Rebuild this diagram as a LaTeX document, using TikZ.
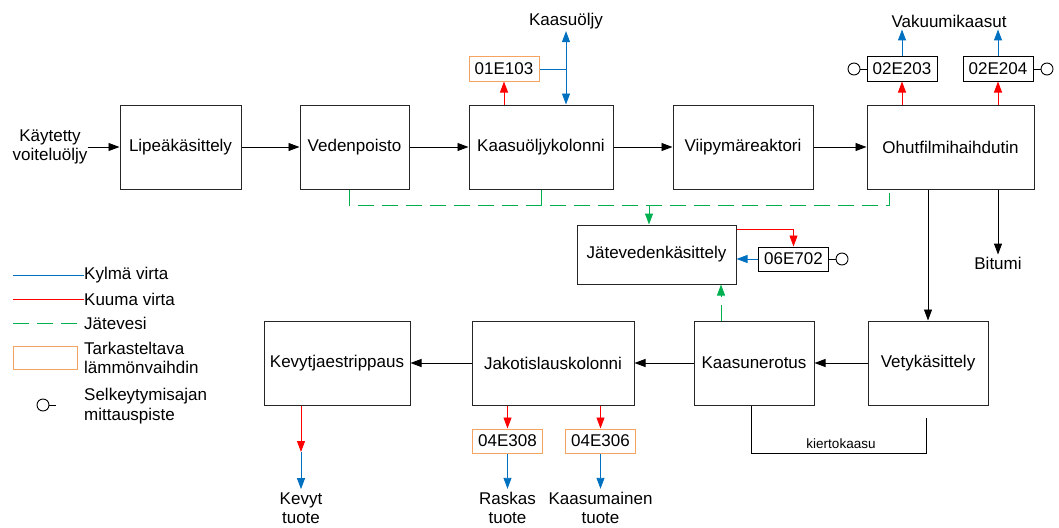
\documentclass[tikz,border=0pt]{standalone}
\usepackage{fontspec}
\setmainfont{Liberation Sans}
\usetikzlibrary{arrows.meta,positioning}
\definecolor{hotred}{HTML}{FF0000}
\definecolor{coldblue}{HTML}{0070C0}
\definecolor{wastegreen}{HTML}{00B050}
\definecolor{hxorange}{HTML}{F4A460}
\definecolor{ink}{HTML}{000000}
\tikzset{
  flow/.style={
    -{Triangle[length=11pt,width=8pt]},
    draw=ink,
    line width=0.9pt
  },
  hotflow/.style={flow, draw=hotred},
  coldflow/.style={flow, draw=coldblue},
  coldline/.style={draw=coldblue, line width=1pt},
  hotline/.style={draw=hotred, line width=1pt},
  wasteline/.style={
    draw=wastegreen,
    line width=1pt,
    dash pattern=on 16pt off 8pt
  },
  wasteflow/.style={flow, wasteline},
  plainline/.style={draw=ink, line width=0.9pt},
  unit/.style={
    rectangle,
    draw=black!85,
    line width=1pt,
    minimum height=84pt,
    inner sep=0pt,
    align=center
  },
  hx/.style={
    rectangle,
    draw=ink,
    line width=1pt,
    minimum width=70pt,
    minimum height=24pt,
    inner sep=0pt
  },
  hxcheck/.style={hx, draw=hxorange},
  probe/.style={
    circle,
    draw=ink,
    line width=0.9pt,
    minimum size=12pt,
    inner sep=0pt
  },
  labeltext/.style={align=center, inner sep=2pt},
  legendtext/.style={align=left, anchor=west, inner sep=0pt},
  smalltext/.style={font=\fontsize{13.5}{16}\selectfont}
}

\begin{document}
\begin{tikzpicture}[x=1pt,y=-1pt,font=\fontsize{17}{19.5}\selectfont]

  \useasboundingbox (0,0) rectangle (1059,527);

  % ============================================================
  % Upper line: pretreatment and vacuum evaporation
  % ============================================================
  \node[labeltext, inner sep=0pt] (src) at (50,147) {Käytetty\\voiteluöljy};

  \node[unit, minimum width=121pt] (lipea)  at (180.5,147) {Lipeäkäsittely};
  \node[unit, minimum width=109pt] (veden)  at (354.5,147) {Vedenpoisto};
  \node[unit, minimum width=144pt] (kolonni) at (541,147) {Kaasuöljykolonni};
  \node[unit, minimum width=140pt] (viipyma) at (743,147) {Viipymäreaktori};
  \node[unit, minimum width=167pt] (ohut)   at (950.5,147) {Ohutfilmihaihdutin};

  \draw[flow] (src.east) -- (lipea.west);
  \draw[flow] (lipea) -- (veden);
  \draw[flow] (veden) -- (kolonni);
  \draw[flow] (kolonni) -- (viipyma);
  \draw[flow] (viipyma) -- (ohut);

  % gas oil exchanger and product
  \node[hxcheck] (e103) at (504,69) {01E103};
  \node[labeltext] (kaasuolj) at (566,21) {Kaasuöljy};

  \draw[hotflow] (e103.south |- kolonni.north) -- (e103.south);
  \draw[coldflow, {Triangle[length=11pt,width=8pt]}-{Triangle[length=11pt,width=8pt]}]
       (kaasuolj.south) -- (kaasuolj.south |- kolonni.north);
  \draw[coldline] (e103.east) -- (e103.east -| kaasuolj.south);

  % vacuum gas condensers
  \node[hx] (e203) at (902,69) {02E203};
  \node[hx] (e204) at (998,69) {02E204};
  \node[probe] (p203) at (854,69) {};
  \node[probe] (p204) at (1047,69) {};
  \node[labeltext] (vakuumi) at (949,21) {Vakuumikaasut};

  \draw[plainline] (p203) -- (e203.west);
  \draw[plainline] (p204) -- (e204.east);
  \draw[hotflow] (e203.south |- ohut.north) -- (e203.south);
  \draw[hotflow] (e204.south |- ohut.north) -- (e204.south);
  \draw[coldflow] (e203.north) -- (e203.north |- vakuumi.south);
  \draw[coldflow] (e204.north) -- (e204.north |- vakuumi.south);

  % bottoms
  \node[labeltext] (bitumi) at (998,263) {Bitumi};
  \draw[flow] (bitumi.north |- ohut.south) -- (bitumi.north);

  % ============================================================
  % Waste water collection and treatment
  % ============================================================
  \node[unit, minimum width=159pt, minimum height=59pt] (jatevesi)
       at (656.5,254.5) {Jätevedenkäsittely};

  \coordinate (w_veden) at (349,205);
  \coordinate (w_ohut)  at (889,205);
  \coordinate (w_jv)    at (649,205);

  \draw[wasteline] (veden.south -| w_veden) -- (w_veden) -- (w_ohut)
       -- (ohut.south -| w_ohut);
  \draw[wasteline] (kolonni.south) -- (kolonni.south |- w_veden);
  \draw[wasteflow] (w_jv) -- (jatevesi.north -| w_jv);

  \node[hx] (e702) at (793.5,259) {06E702};
  \node[probe] (p702) at (842,259) {};

  \draw[plainline] (e702.east) -- (p702);
  \draw[hotflow] ([yshift=-5pt]jatevesi.north east) -| (e702.north);
  \draw[coldflow] (e702.west) -- (e702.west -| jatevesi.east);

  % ============================================================
  % Lower line: hydrotreatment and fractionation
  % ============================================================
  \node[unit, minimum width=146pt] (kevyt)  at (337,363) {Kevytjaestrippaus};
  \node[unit, minimum width=162pt] (jakot)  at (553,363) {Jakotislauskolonni};
  \node[unit, minimum width=120pt] (kaasun) at (754,363) {Kaasunerotus};
  \node[unit, minimum width=120pt] (vety)   at (928,363) {Vetykäsittely};

  \draw[flow] (vety.north |- ohut.south) -- (vety.north);
  \draw[flow] (vety) -- (kaasun);
  \draw[flow] (kaasun) -- (jakot);
  \draw[flow] (jakot) -- (kevyt);

  \draw[wasteflow] ([xshift=-33pt]kaasun.north) -- ([xshift=-33pt]kaasun.north |- jatevesi.south);

  % recycle gas (drawn open at the hydrotreater end)
  \coordinate (kk_l)   at (751,453);
  \coordinate (kk_r)   at (926,453);
  \coordinate (kk_end) at (926,418);
  \draw[plainline] (kaasun.south -| kk_l) -- (kk_l) -- (kk_r) -- (kk_end);
  \node[smalltext, inner sep=0pt] (kierto) at (841,444) {kiertokaasu};

  % product coolers
  \node[hxcheck] (e308) at (507.5,441) {04E308};
  \node[hxcheck] (e306) at (600.5,441) {04E306};

  \node[labeltext, inner sep=0pt] (kevytp)  at (301,508) {Kevyt\\tuote};
  \node[labeltext, inner sep=0pt] (raskas)  at (507.5,508) {Raskas\\tuote};
  \node[labeltext, inner sep=0pt] (kaasump) at (600.5,508) {Kaasumainen\\tuote};

  \draw[hotflow] (e308.north |- jakot.south) -- (e308.north);
  \draw[hotflow] (e306.north |- jakot.south) -- (e306.north);
  \draw[coldflow] (e308.south) -- ([yshift=3pt]raskas.north);
  \draw[coldflow] (e306.south) -- ([yshift=3pt]kaasump.north);

  \coordinate (kevyt_hx) at (301,452);
  \draw[hotflow] (kevyt.south -| kevyt_hx) -- (kevyt_hx);
  \draw[coldflow] (kevyt_hx) -- ([yshift=3pt]kevytp.north);

  % ============================================================
  % Legend
  % ============================================================
  \coordinate (lg_cold) at (13,275);
  \coordinate (lg_hot)  at (13,299);
  \coordinate (lg_waste) at (13,323);

  \node[legendtext] (lt_cold)  at (84,275) {Kylmä virta};
  \node[legendtext] (lt_hot)   at (84,299) {Kuuma virta};
  \node[legendtext] (lt_waste) at (84,323) {Jätevesi};
  \node[legendtext] (lt_hx)    at (84,358) {Tarkasteltava\\lämmönvaihdin};
  \node[legendtext] (lt_probe) at (84,406) {Selkeytymisajan\\mittauspiste};

  \draw[coldline]  (lg_cold) -- (lt_cold.west);
  \draw[hotline]   (lg_hot) -- (lt_hot.west);
  \draw[wasteline] (lg_waste) -- ([xshift=-7pt]lt_waste.west);
  \node[hxcheck, minimum width=64pt, minimum height=23pt] (lg_hx) at (45,357.5) {};
  \node[probe] (lg_probe) at (43,405) {};
  \draw[plainline] (lg_probe.east) -- ++(7,0);

\end{tikzpicture}
\end{document}
